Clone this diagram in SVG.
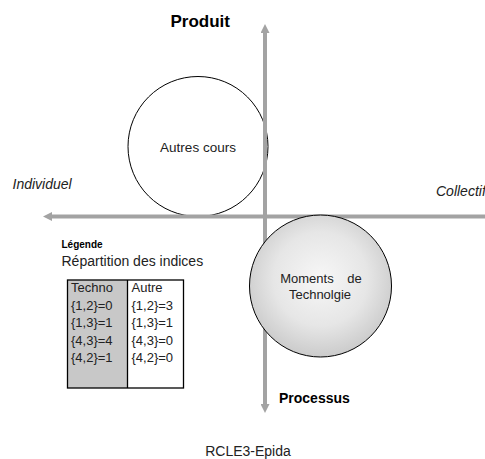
<svg xmlns="http://www.w3.org/2000/svg" width="485" height="459" viewBox="0 0 485 459">
  <style>
    .axis { stroke: #a3a3a3; stroke-width: 4; fill: none; }
    .t { font-family: "Liberation Sans", Arial, sans-serif; fill: #222; }
    .b { font-family: "Liberation Sans", Arial, sans-serif; font-weight: bold; fill: #000; }
    .circ { stroke: #000; stroke-width: 1; }
  </style>
  <defs>
    <marker id="ah" viewBox="0 0 9 9" refX="0" refY="4.5" markerWidth="9" markerHeight="9" markerUnits="userSpaceOnUse" orient="auto">
      <path d="M0,0 L9,4.5 L0,9 z" fill="#a3a3a3"/>
    </marker>
    <radialGradient id="grad" cx="50%" cy="45%" r="55%">
      <stop offset="0" stop-color="#f7f7f7"/>
      <stop offset="0.6" stop-color="#e6e6e6"/>
      <stop offset="1" stop-color="#cbcbcb"/>
    </radialGradient>
  </defs>

  <g id="node-autres">
    <circle class="circ" cx="198" cy="146.5" r="70" fill="#fff"/>
    <text class="t" x="198" y="152" font-size="13.5" text-anchor="middle">Autres cours</text>
  </g>

  <g id="connectors">
    <line class="axis" x1="265" y1="214" x2="265" y2="33" marker-end="url(#ah)"/>
    <line class="axis" x1="265" y1="214" x2="265" y2="404" marker-end="url(#ah)"/>
    <line class="axis" x1="490" y1="216.5" x2="52" y2="216.5" marker-end="url(#ah)"/>
  </g>

  <g id="node-moments">
    <circle class="circ" cx="320.5" cy="286" r="71" fill="url(#grad)"/>
    <text class="t" x="321" y="283" font-size="13" text-anchor="middle" word-spacing="10">Moments de</text>
    <text class="t" x="320" y="299" font-size="13" text-anchor="middle">Technolgie</text>
  </g>

  <g id="label-produit">
    <text class="b" x="170.5" y="27" font-size="17">Produit</text>
  </g>
  <g id="label-processus">
    <text class="b" x="279" y="403" font-size="14">Processus</text>
  </g>
  <g id="label-individuel">
    <text class="t" x="12.5" y="189" font-size="14" font-style="italic">Individuel</text>
  </g>
  <g id="label-collectif">
    <text class="t" x="436" y="196" font-size="14" font-style="italic">Collectif</text>
  </g>

  <g id="legend">
    <text class="b" x="61.5" y="248" font-size="10">Légende</text>
    <text class="t" x="61.5" y="266" font-size="14">Répartition des indices</text>
    <rect x="67.5" y="280" width="60" height="108" fill="#c8c8c8"/>
    <rect x="67.5" y="280" width="116" height="108" fill="none" stroke="#000" stroke-width="1.3"/>
    <line x1="127.5" y1="280" x2="127.5" y2="388" stroke="#000" stroke-width="1.3"/>
    <g class="t" font-size="13">
      <text x="71" y="292">Techno</text>
      <text x="71" y="309.6">{1,2}=0</text>
      <text x="71" y="327.2">{1,3}=1</text>
      <text x="71" y="344.8">{4,3}=4</text>
      <text x="71" y="362.4">{4,2}=1</text>
      <text x="131.5" y="292">Autre</text>
      <text x="131.5" y="309.6">{1,2}=3</text>
      <text x="131.5" y="327.2">{1,3}=1</text>
      <text x="131.5" y="344.8">{4,3}=0</text>
      <text x="131.5" y="362.4">{4,2}=0</text>
    </g>
  </g>

  <g id="caption">
    <text class="t" x="248" y="456" font-size="14" text-anchor="middle">RCLE3-Epida</text>
  </g>
</svg>
